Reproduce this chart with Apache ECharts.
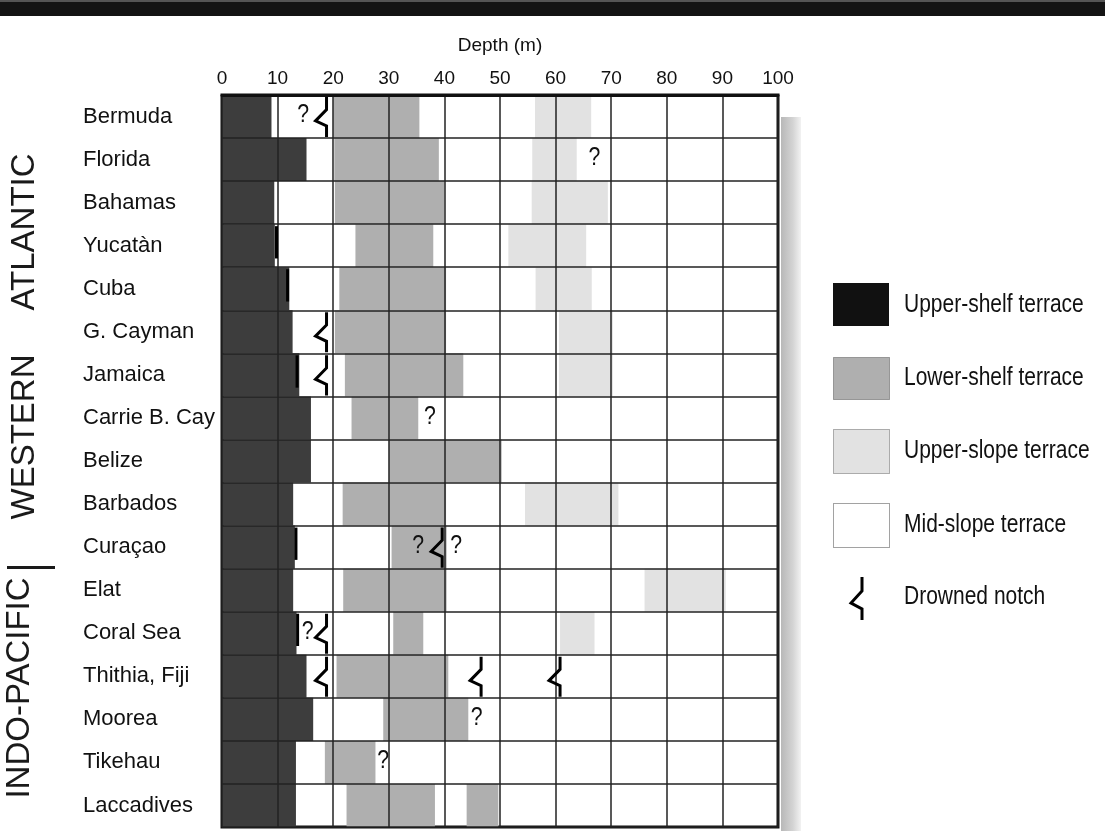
<!DOCTYPE html>
<html>
<head>
<meta charset="utf-8">
<title>Terrace depths</title>
<script src="https://cdn.jsdelivr.net/npm/echarts@6/dist/echarts.min.js"></script>
<style>
  html, body { margin: 0; padding: 0; background: #fff; }
  #chart { width: 1105px; height: 831px; }
</style>
</head>
<body>
<div id="chart"></div>
<script>
// rows, top to bottom
const categories = ['Bermuda', 'Florida', 'Bahamas', 'Yucatàn', 'Cuba', 'G. Cayman', 'Jamaica',
  'Carrie B. Cay', 'Belize', 'Barbados', 'Curaçao', 'Elat', 'Coral Sea', 'Thithia, Fiji',
  'Moorea', 'Tikehau', 'Laccadives'];

// upper-shelf terrace: from 0 down to this depth (m)
const upperShelf = [8.9, 15.2, 9.4, 9.5, 12.1, 12.7, 13.9, 16, 16, 12.8, 13.1, 12.8, 13.4, 15.2, 16.4, 13.3, 13.3];

// black edge marks at the foot of the upper shelf [row, depth]
const edgeMarks = [[3, 9.8], [4, 11.8], [6, 13.5], [10, 13.3], [12, 13.6]];

// lower-shelf terrace [row, top, bottom]
const lowerShelf = [
  [0, 20, 35.5], [1, 20.2, 39], [2, 20.3, 40], [3, 24, 38], [4, 21.1, 40.3],
  [5, 20.3, 40.3], [6, 22.1, 43.4], [7, 23.3, 35.3], [8, 30, 50.3], [9, 21.7, 40.3],
  [10, 30.5, 40.4], [11, 21.8, 40.4], [12, 30.8, 36.2], [13, 20.6, 40.7], [14, 29, 44.3],
  [15, 18.5, 27.6], [16, 22.4, 38.3], [16, 44, 49.7]
];

// upper-slope terrace [row, top, bottom]
const upperSlope = [
  [0, 56.3, 66.4], [1, 55.8, 63.8], [2, 55.7, 69.4], [3, 51.5, 65.5], [4, 56.4, 66.5],
  [5, 60.6, 70.3], [6, 60.6, 70.3], [9, 54.5, 71.3], [11, 76, 90.6], [12, 60.8, 67]
];

// drowned notches [row, depth]
const notches = [[0, 18.8], [5, 18.8], [6, 18.8], [10, 39.6], [12, 18.8], [13, 18.8], [13, 46.6], [13, 60.8]];

// question marks [row, depth]
const queries = [[0, 14.6], [1, 67], [7, 37.4], [10, 35.3], [10, 42.1], [12, 15.4], [14, 45.8], [15, 29]];

const SANS = "'Liberation Sans', Arial, sans-serif";
const INK = '#111';

const chart = echarts.init(document.getElementById('chart'));

function rangeItem(color) {
  return function (params, api) {
    const row = api.value(0);
    const a = api.coord([api.value(1), row]);
    const b = api.coord([api.value(2), row]);
    const h = api.size([0, 1])[1];
    return {
      type: 'rect',
      shape: { x: a[0], y: a[1] - h / 2, width: b[0] - a[0], height: h },
      style: { fill: color }
    };
  };
}

function notchItem(params, api) {
  const p = api.coord([api.value(1), api.value(0)]);
  const h = api.size([0, 1])[1];
  const top = p[1] - h / 2;
  return {
    type: 'polyline',
    shape: {
      points: [[p[0], top + 2], [p[0], top + h * 0.34], [p[0] - 11, top + h * 0.6],
               [p[0], top + h * 0.72], [p[0], top + h - 1]]
    },
    style: { stroke: '#000', lineWidth: 3, fill: null, lineJoin: 'miter' }
  };
}

function queryItem(params, api) {
  const p = api.coord([api.value(1), api.value(0)]);
  return {
    type: 'text',
    x: p[0], y: p[1] - 1, scaleX: 0.85,
    style: { text: '?', fill: INK, font: '25px ' + SANS, align: 'center', verticalAlign: 'middle' }
  };
}

function edgeItem(params, api) {
  const p = api.coord([api.value(1), api.value(0)]);
  const h = api.size([0, 1])[1];
  return {
    type: 'rect',
    shape: { x: p[0] - 1.5, y: p[1] - h / 2 + 2, width: 3, height: h * 0.75 },
    style: { fill: '#000' }
  };
}

// legend rows drawn as graphic elements (narrowed type like the original)
function legendText(text, y) {
  return {
    type: 'text', x: 904, y: y, scaleX: 0.84,
    style: { text: text, font: '25px ' + SANS, fill: INK, verticalAlign: 'middle' }
  };
}

chart.setOption({
  backgroundColor: '#fff',
  animation: false,
  grid: {
    left: 222, right: 327, top: 95, bottom: 4,
    show: true, backgroundColor: '#fff', borderColor: INK, borderWidth: 3
  },
  xAxis: {
    type: 'value', position: 'top', min: 0, max: 100, interval: 10, z: 5,
    name: 'Depth (m)', nameLocation: 'middle', nameGap: 40,
    nameTextStyle: { fontFamily: SANS, fontSize: 19, color: INK },
    axisLine: { show: true, lineStyle: { color: INK, width: 3 } },
    axisTick: { show: false },
    axisLabel: { fontFamily: SANS, fontSize: 19, color: INK, margin: 7 },
    splitLine: { show: true, lineStyle: { color: '#222', width: 1.5 } }
  },
  yAxis: {
    type: 'category', data: categories, inverse: true, z: 5,
    axisLine: { show: false },
    axisTick: { show: false },
    axisLabel: { fontFamily: SANS, fontSize: 22, color: INK, align: 'left', margin: 139 },
    splitLine: { show: true, interval: 0, lineStyle: { color: '#222', width: 1.5 } }
  },
  series: [
    {
      name: 'Upper-shelf terrace', type: 'custom',
      data: upperShelf.map((v, i) => [i, 0, v]),
      encode: { x: [1, 2], y: 0 },
      renderItem: rangeItem('#3d3d3d'), z: 2
    },
    {
      name: 'Lower-shelf terrace', type: 'custom',
      data: lowerShelf, encode: { x: [1, 2], y: 0 },
      renderItem: rangeItem('#afafaf'), z: 2
    },
    {
      name: 'Upper-slope terrace', type: 'custom',
      data: upperSlope, encode: { x: [1, 2], y: 0 },
      renderItem: rangeItem('#e2e2e2'), z: 2
    },
    {
      name: 'edge', type: 'custom',
      data: edgeMarks, encode: { x: 1, y: 0 },
      renderItem: edgeItem, z: 10
    },
    {
      name: 'Drowned notch', type: 'custom',
      data: notches, encode: { x: 1, y: 0 },
      renderItem: notchItem, z: 10
    },
    {
      name: 'query', type: 'custom',
      data: queries, encode: { x: 1, y: 0 },
      renderItem: queryItem, z: 10
    }
  ],
  graphic: [
    { type: 'rect', left: 0, top: 0, shape: { width: 1105, height: 16 }, style: { fill: '#141414' } },
    { type: 'rect', left: 0, top: 0, shape: { width: 1105, height: 2 }, style: { fill: '#555' } },
    // drop shadow on the right of the plot
    {
      type: 'rect', left: 781, top: 117, shape: { width: 20, height: 714 },
      style: {
        fill: new echarts.graphic.LinearGradient(0, 0, 1, 0, [
          { offset: 0, color: '#b8b8b8' }, { offset: 0.6, color: '#d4d4d4' }, { offset: 1, color: '#f2f2f2' }
        ])
      }
    },
    // region labels
    {
      type: 'text', x: 25, y: 232, rotation: Math.PI / 2,
      style: { text: 'ATLANTIC', font: '33px ' + SANS, fill: '#1a1a1a', align: 'center', verticalAlign: 'middle' }
    },
    {
      type: 'text', x: 25, y: 437, rotation: Math.PI / 2,
      style: { text: 'WESTERN', font: '33px ' + SANS, fill: '#1a1a1a', align: 'center', verticalAlign: 'middle' }
    },
    {
      type: 'text', x: 20, y: 688, rotation: Math.PI / 2,
      style: { text: 'INDO-PACIFIC', font: '33px ' + SANS, fill: '#1a1a1a', align: 'center', verticalAlign: 'middle' }
    },
    { type: 'rect', left: 7, top: 566, shape: { width: 48, height: 3 }, style: { fill: '#1a1a1a' } },
    // legend
    { type: 'rect', left: 833, top: 283, shape: { width: 56, height: 43 }, style: { fill: '#111' } },
    {
      type: 'rect', left: 833, top: 357, shape: { width: 56, height: 42 },
      style: { fill: '#afafaf', stroke: '#555', lineWidth: 1, lineDash: [1, 1] }
    },
    {
      type: 'rect', left: 833, top: 429, shape: { width: 56, height: 44 },
      style: { fill: '#e2e2e2', stroke: '#666', lineWidth: 1, lineDash: [1, 1] }
    },
    {
      type: 'rect', left: 833, top: 503, shape: { width: 56, height: 44 },
      style: { fill: '#fff', stroke: '#444', lineWidth: 1, lineDash: [1, 1] }
    },
    {
      type: 'polyline',
      shape: { points: [[862, 577], [862, 591], [851, 603], [862, 609], [862, 620]] },
      style: { stroke: '#000', lineWidth: 3, fill: null }
    },
    legendText('Upper-shelf terrace', 305),
    legendText('Lower-shelf terrace', 378),
    legendText('Upper-slope terrace', 451),
    legendText('Mid-slope terrace', 525),
    legendText('Drowned notch', 597)
  ]
});
</script>
</body>
</html>
